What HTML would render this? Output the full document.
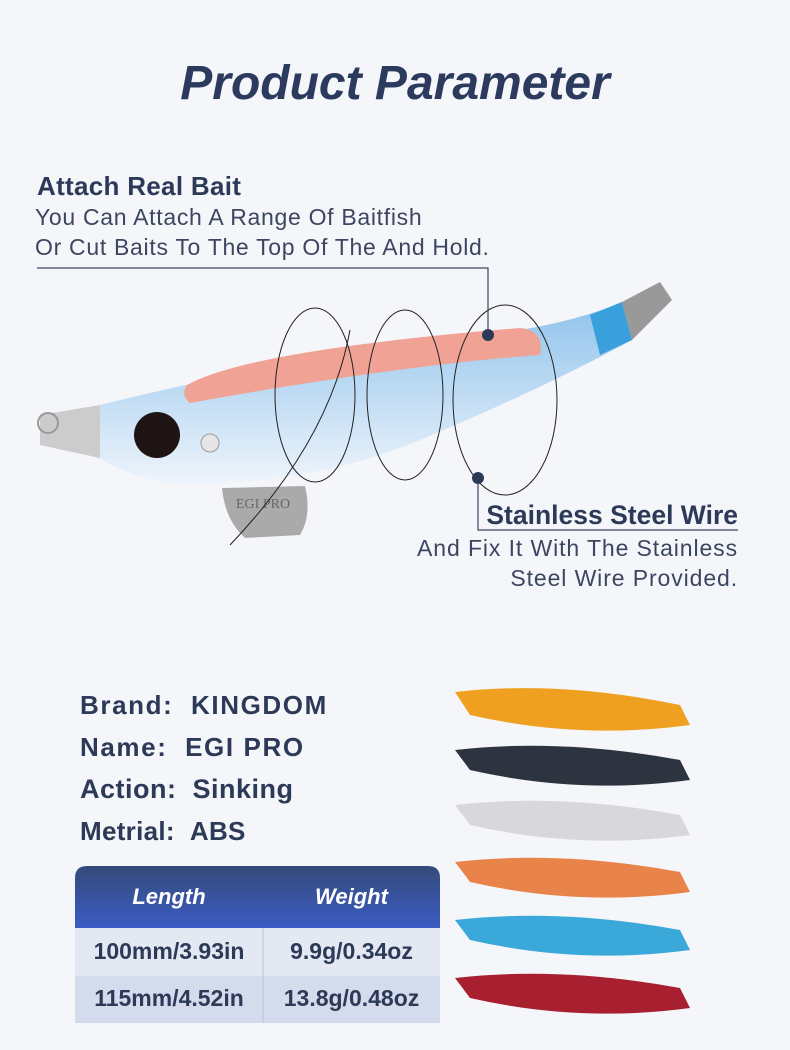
<!DOCTYPE html>
<html><head><meta charset="utf-8"><style>
body{margin:0;width:790px;height:1050px;background:#f4f6fa;font-family:"Liberation Sans",sans-serif;position:relative;overflow:hidden;color:#2d3a57}
.t{position:absolute;white-space:nowrap}
</style></head><body>
<div class="t" style="left:0;width:790px;text-align:center;top:56px;font-size:48px;font-weight:bold;font-style:italic;color:#2c3a5e">Product Parameter</div>
<div class="t" style="left:37px;top:171px;font-size:26px;font-weight:bold;letter-spacing:0.3px">Attach Real Bait</div>
<div class="t" style="left:35px;top:204px;font-size:23px;letter-spacing:0.7px;color:#3d4660">You Can Attach A Range Of Baitfish</div>
<div class="t" style="left:35px;top:234px;font-size:23px;letter-spacing:0.7px;color:#3d4660">Or Cut Baits To The Top Of The And Hold.</div>
<div class="t" style="right:52px;top:500px;font-size:26.5px;font-weight:bold">Stainless Steel Wire</div>
<div class="t" style="right:52px;top:535px;font-size:23px;letter-spacing:0.9px;color:#3d4660">And Fix It With The Stainless</div>
<div class="t" style="right:52px;top:565px;font-size:23px;letter-spacing:0.9px;color:#3d4660">Steel Wire Provided.</div>
<svg style="position:absolute;left:0;top:0" width="790" height="1050">
<defs>
<linearGradient id="bg" x1="0" y1="0" x2="0" y2="1"><stop offset="0" stop-color="#8fc3ec"/><stop offset="1" stop-color="#eef4fb"/></linearGradient>
<linearGradient id="hd" x1="0" y1="0" x2="0" y2="1"><stop offset="0" stop-color="#354a7a"/><stop offset="1" stop-color="#3b5cc4"/></linearGradient>
</defs>
<path d="M100 405 Q300 355 520 330 Q580 320 622 302 L632 340 Q540 390 420 440 Q300 490 160 482 Q115 470 100 458 Z" fill="url(#bg)"/>
<path d="M590 315 L622 302 L632 340 L600 355 Z" fill="#3aa0dc"/>
<path d="M622 302 L660 282 L672 300 L632 340 Z" fill="#999"/>
<path d="M187 385 Q250 350 520 328 Q545 330 540 355 Q400 365 190 403 Q180 395 187 385Z" fill="#f0a394"/>
<path d="M40 415 L100 405 L100 458 L40 445Z" fill="#ccc"/>
<circle cx="48" cy="423" r="10" fill="none" stroke="#999" stroke-width="2"/>
<circle cx="157" cy="435" r="23" fill="#1e1414"/>
<circle cx="210" cy="443" r="9" fill="#e6e6e6" stroke="#999"/>
<path d="M222 488 L305 486 Q312 515 300 535 L245 538 Q225 520 222 488 Z" fill="#aaa"/>
<text x="236" y="508" font-family="Liberation Serif" font-size="14" fill="#666">EGI PRO</text>
<g fill="none" stroke="#222" stroke-width="1">
<ellipse cx="315" cy="395" rx="40" ry="87"/><ellipse cx="405" cy="395" rx="38" ry="85"/><ellipse cx="505" cy="400" rx="52" ry="95"/>
<path d="M230 545 Q330 440 350 330"/>
</g>
<g stroke="#3d4660" stroke-width="1.2" fill="none"><path d="M37 268 H488 V335"/><path d="M478 478 V530 H738"/></g>
<circle cx="488" cy="335" r="6" fill="#2d3a57"/><circle cx="478" cy="478" r="6" fill="#2d3a57"/>
<g>
<path d="M455 692 Q560 680 680 705 L690 725 Q580 740 470 715Z" fill="#f0a020"/>
<path d="M455 750 Q560 738 680 760 L690 780 Q580 795 470 770Z" fill="#2d3440"/>
<path d="M455 805 Q560 793 680 815 L690 835 Q580 850 470 825Z" fill="#d8d8dc"/>
<path d="M455 862 Q560 850 680 872 L690 892 Q580 907 470 882Z" fill="#e8844a"/>
<path d="M455 920 Q560 908 680 930 L690 950 Q580 965 470 940Z" fill="#3aa8d8"/>
<path d="M455 978 Q560 966 680 988 L690 1008 Q580 1023 470 998Z" fill="#a82030"/>
</g>
<path d="M75 878 Q75 866 87 866 H428 Q440 866 440 878 V928 H75Z" fill="url(#hd)"/>
<rect x="75" y="928" width="365" height="48" fill="#e3e8f2"/>
<rect x="75" y="976" width="365" height="47" fill="#d3dbec"/>
<line x1="263" y1="928" x2="263" y2="1023" stroke="#b8c2e0"/>
</svg>
<div class="t" style="left:80px;top:690px;font-size:26px;font-weight:bold;letter-spacing:1.6px">Brand: &nbsp;KINGDOM</div>
<div class="t" style="left:80px;top:732px;font-size:26px;font-weight:bold;letter-spacing:1.6px">Name: &nbsp;EGI PRO</div>
<div class="t" style="left:80px;top:774px;font-size:27px;font-weight:bold;letter-spacing:0.5px">Action: &nbsp;Sinking</div>
<div class="t" style="left:80px;top:816px;font-size:26px;font-weight:bold;letter-spacing:0.3px">Metrial: &nbsp;ABS</div>
<div class="t" style="left:75px;width:188px;text-align:center;top:884px;font-size:22px;font-weight:bold;font-style:italic;color:#fff">Length</div>
<div class="t" style="left:263px;width:177px;text-align:center;top:884px;font-size:22px;font-weight:bold;font-style:italic;color:#fff">Weight</div>
<div class="t" style="left:75px;width:188px;text-align:center;top:938px;font-size:23px;font-weight:bold">100mm/3.93in</div>
<div class="t" style="left:263px;width:177px;text-align:center;top:938px;font-size:23px;font-weight:bold">9.9g/0.34oz</div>
<div class="t" style="left:75px;width:188px;text-align:center;top:985px;font-size:23px;font-weight:bold">115mm/4.52in</div>
<div class="t" style="left:263px;width:177px;text-align:center;top:985px;font-size:23px;font-weight:bold">13.8g/0.48oz</div>
</body></html>
